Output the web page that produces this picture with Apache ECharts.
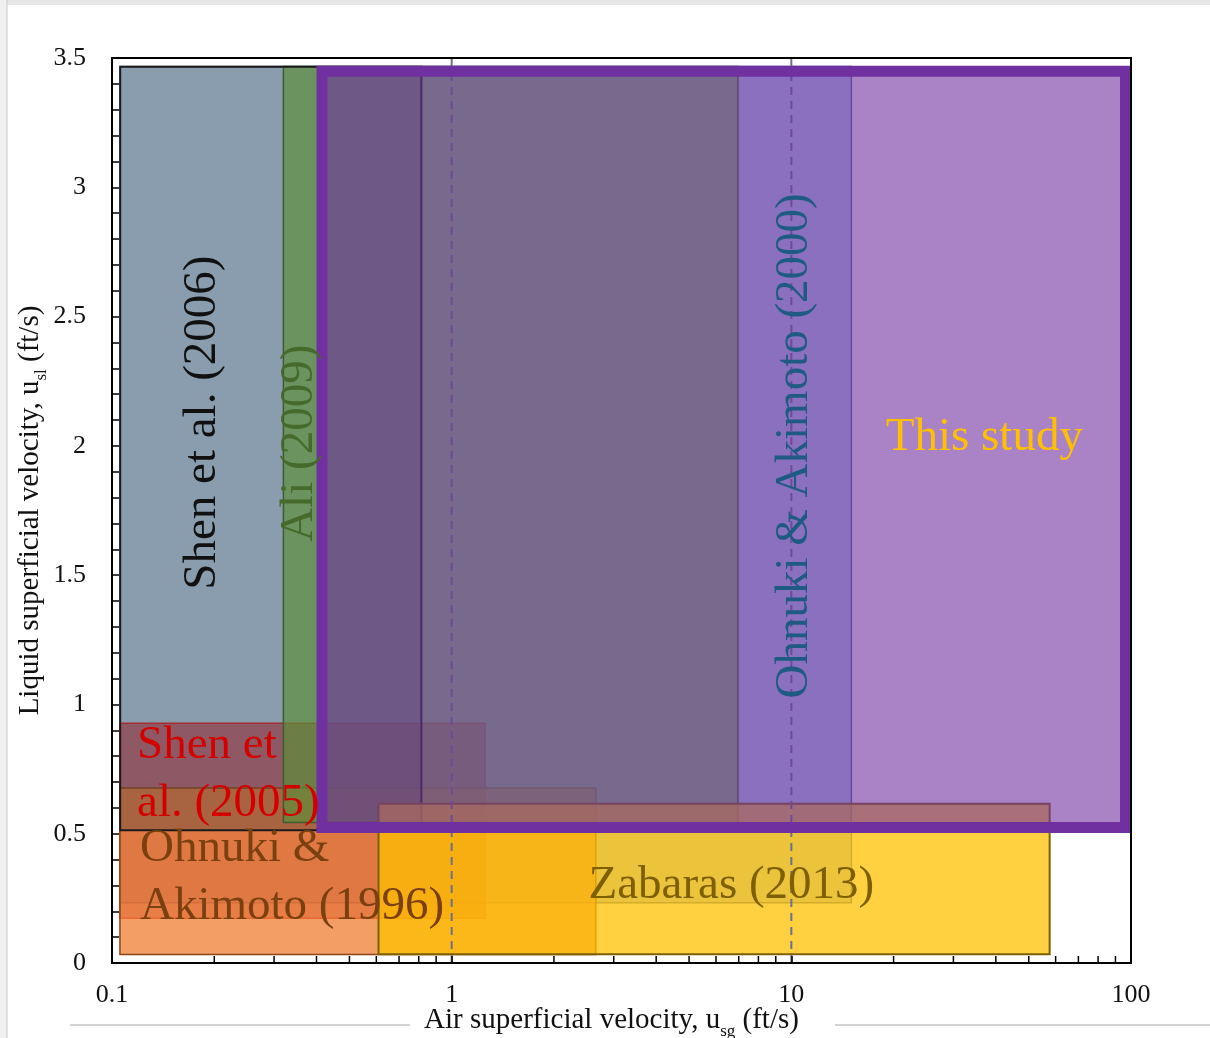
<!DOCTYPE html>
<html>
<head>
<meta charset="utf-8">
<title>Superficial velocity ranges</title>
<script src="https://cdn.jsdelivr.net/npm/echarts/dist/echarts.min.js"></script>
<style>
  html, body { margin: 0; padding: 0; background: #ffffff; }
  #chart { width: 1210px; height: 1038px; }
</style>
</head>
<body>
<div id="chart"></div>
<script>
// Test ranges of each study, listed in drawing order (bottom to top).
const studies = [
  'Ohnuki & Akimoto (2000)',
  'Shen et al. (2005)',
  'Ohnuki & Akimoto (1996)',
  'Ali (2009)',
  'Shen et al. (2006)',
  'Zabaras (2013)',
  'This study'
];
// Air superficial velocity range, ft/s
const usgMin = [0.105, 0.105, 0.105, 0.318, 0.105, 0.605, 0.40];
const usgMax = [15.1, 1.26, 2.67, 7.0, 0.82, 58, 100];
// Liquid superficial velocity range, ft/s
const uslMin = [0.23, 0.17, 0.03, 0.54, 0.51, 0.03, 0.503];
const uslMax = [3.47, 0.93, 0.68, 3.47, 3.47, 0.62, 3.47];

// Axis ticks
const yTicks = ['0', '0.5', '1', '1.5', '2', '2.5', '3', '3.5'];
const decadeLines = [1, 10];

// Label text and anchors in data units (usg, usl)
const labelText = [
  'Ohnuki & Akimoto (2000)',
  'Shen et\nal. (2005)',
  'Ohnuki &\nAkimoto (1996)',
  'Ali (2009)',
  'Shen et al. (2006)',
  'Zabaras (2013)',
  'This study'
];
const labelUsg = [10.2, 0.1185, 0.1209, 0.357, 0.185, 6.66, 37];
const labelUsl = [2.0, 0.73, 0.33, 2.01, 2.09, 0.30, 2.03];

// Styling
const SERIF = '"Liberation Serif", "Times New Roman", serif';
const fills = [
  'rgba(100,160,215,0.5)',
  'rgba(190,20,30,0.55)',
  'rgba(237,125,49,0.75)',
  'rgba(108,186,53,0.68)',
  'rgba(64,64,64,0.35)',
  'rgba(255,192,0,0.75)',
  'rgba(112,48,160,0.6)'
];
const strokes = ['#4f6fa8', '#d62a2a', '#8c4416', '#3f6a2f', '#1a1a1a', '#7f6000', '#7030a0'];
const strokeWidths = [1.5, 1.5, 1.5, 1.5, 2, 2, 11];
const labelColors = ['#1f5a82', '#d40000', '#7b400f', '#466a2c', '#111111', '#7f6000', '#ffc000'];
const labelRotated = [true, false, false, true, true, false, false];
const labelAlign = ['center', 'left', 'left', 'center', 'center', 'center', 'center'];

const Y_MAX = 3.5;

// Minor ticks on the log axis: 2..9 within each decade
const xMinorTicks = [];
[0.1, 1, 10].forEach(function (d) {
  for (let k = 2; k <= 9; k++) xMinorTicks.push(+(k * d).toPrecision(3));
});

const rangeData = studies.map(function (s, i) {
  return [usgMin[i], usgMax[i], uslMin[i], uslMax[i], i];
});

function renderRange(params, api) {
  const i = api.value(4);
  const lw = strokeWidths[i];
  const p0 = api.coord([api.value(0), api.value(3)]);
  const p1 = api.coord([api.value(1), api.value(2)]);
  const h = lw / 2;
  return {
    type: 'rect',
    shape: { x: p0[0] + h, y: p0[1] + h, width: p1[0] - p0[0] - lw, height: p1[1] - p0[1] - lw },
    style: { fill: fills[i], stroke: strokes[i], lineWidth: lw }
  };
}

function renderDecade(params, api) {
  const v = api.value(0);
  const a = api.coord([v, 0]);
  const b = api.coord([v, Y_MAX]);
  return {
    type: 'line',
    shape: { x1: a[0], y1: a[1], x2: b[0], y2: b[1] },
    style: { stroke: '#6e7088', lineWidth: 2, lineDash: [8, 6] }
  };
}

function renderLabel(params, api) {
  const i = api.value(2);
  const p = api.coord([api.value(0), api.value(1)]);
  return {
    type: 'text',
    x: p[0],
    y: p[1],
    rotation: labelRotated[i] ? Math.PI / 2 : 0,
    style: {
      text: labelText[i],
      font: '47px ' + SERIF,
      fill: labelColors[i],
      align: labelAlign[i],
      verticalAlign: 'middle',
      lineHeight: 58
    }
  };
}

function renderMinorTick(params, api) {
  const p = api.coord([api.value(0), 0]);
  return {
    type: 'line',
    shape: { x1: p[0], y1: p[1], x2: p[0], y2: p[1] - 7 },
    style: { stroke: '#000', lineWidth: 1.5 }
  };
}

const chart = echarts.init(document.getElementById('chart'), null, { renderer: 'canvas' });

const axisLineStyle = { color: '#000', width: 2 };
function nameStyle(padding) {
  return {
    fontFamily: SERIF,
    fontSize: 29,
    lineHeight: 29,
    color: '#111',
    padding: padding,
    rich: {
      sub: { fontFamily: SERIF, fontSize: 17, color: '#111', verticalAlign: 'bottom', lineHeight: 40 }
    }
  };
}

chart.setOption({
  backgroundColor: '#ffffff',
  animation: false,
  grid: { left: 112, right: 79, top: 58, bottom: 75, containLabel: false, outerBoundsMode: 'none' },
  graphic: [
    { type: 'rect', left: 0, top: 0, shape: { width: 1210, height: 5 }, style: { fill: '#e6e6e6' }, z: -1 },
    { type: 'rect', left: 0, top: 0, shape: { width: 7, height: 1038 }, style: { fill: '#f0f0f0' }, z: -1 },
    { type: 'line', shape: { x1: 7, y1: 0, x2: 7, y2: 1038 }, style: { stroke: '#c8c8c8', lineWidth: 1 }, z: -1 },
    { type: 'line', shape: { x1: 70, y1: 1025, x2: 410, y2: 1025 }, style: { stroke: '#c4c4c4', lineWidth: 1.5 }, z: -1 },
    { type: 'line', shape: { x1: 835, y1: 1025, x2: 1210, y2: 1025 }, style: { stroke: '#c4c4c4', lineWidth: 1.5 }, z: -1 }
  ],
  xAxis: [
    {
      type: 'log',
      logBase: 10,
      min: 0.1,
      max: 100,
      z: 10,
      axisLine: { show: true, onZero: false, lineStyle: axisLineStyle },
      axisTick: { show: true, inside: true, length: 7, lineStyle: { color: '#000', width: 1.5 } },
      splitLine: { show: false },
      axisLabel: {
        margin: 19,
        fontFamily: SERIF,
        fontSize: 26,
        color: '#111',
        formatter: function (v) { return String(+(+v).toPrecision(3)); }
      },
      name: 'Air superficial velocity, u{sub|sg} (ft/s)',
      nameLocation: 'middle',
      nameGap: 37,
      nameMoveOverlap: false,
      nameTextStyle: nameStyle([0, 20, 0, 0])
    },
    {
      type: 'log',
      logBase: 10,
      min: 0.1,
      max: 100,
      position: 'top',
      z: 10,
      axisLine: { show: true, onZero: false, lineStyle: axisLineStyle },
      axisTick: { show: false },
      axisLabel: { show: false },
      splitLine: { show: false }
    }
  ],
  yAxis: [
    {
      type: 'value',
      min: 0,
      max: Y_MAX,
      interval: 0.5,
      z: 10,
      axisLine: { show: true, onZero: false, lineStyle: axisLineStyle },
      axisTick: { show: true, inside: true, length: 7, lineStyle: { color: '#000', width: 1.5 } },
      minorTick: { show: true, splitNumber: 5, length: 7, lineStyle: { color: '#000', width: 1.5 } },
      splitLine: { show: false },
      axisLabel: {
        margin: 26,
        fontFamily: SERIF,
        fontSize: 26,
        color: '#111',
        formatter: function (v) {
          const idx = Math.round(v / 0.5);
          return yTicks[idx] !== undefined ? yTicks[idx] : String(v);
        }
      },
      name: 'Liquid superficial velocity, u{sub|sl} (ft/s)',
      nameLocation: 'middle',
      nameGap: 62,
      nameMoveOverlap: false,
      nameTextStyle: nameStyle(0)
    },
    {
      type: 'value',
      min: 0,
      max: Y_MAX,
      position: 'right',
      z: 10,
      axisLine: { show: true, onZero: false, lineStyle: axisLineStyle },
      axisTick: { show: false },
      axisLabel: { show: false },
      splitLine: { show: false }
    }
  ],
  series: [
    {
      type: 'custom',
      name: 'ranges',
      silent: true,
      data: rangeData.slice(0, 6),
      encode: { x: [0, 1], y: [2, 3] },
      renderItem: renderRange,
      z: 2
    },
    {
      type: 'custom',
      name: 'decades',
      silent: true,
      data: decadeLines.map(function (v) { return [v]; }),
      encode: { x: 0 },
      renderItem: renderDecade,
      z: 2
    },
    {
      type: 'custom',
      name: 'this study',
      silent: true,
      data: rangeData.slice(6),
      encode: { x: [0, 1], y: [2, 3] },
      renderItem: renderRange,
      z: 2
    },
    {
      type: 'custom',
      name: 'labels',
      silent: true,
      data: studies.map(function (s, i) { return [labelUsg[i], labelUsl[i], i]; }),
      encode: { x: 0, y: 1 },
      renderItem: renderLabel,
      z: 3
    },
    {
      type: 'custom',
      name: 'minor ticks',
      silent: true,
      data: xMinorTicks.map(function (v) { return [v]; }),
      encode: { x: 0 },
      renderItem: renderMinorTick,
      z: 12
    }
  ]
});
</script>
</body>
</html>
